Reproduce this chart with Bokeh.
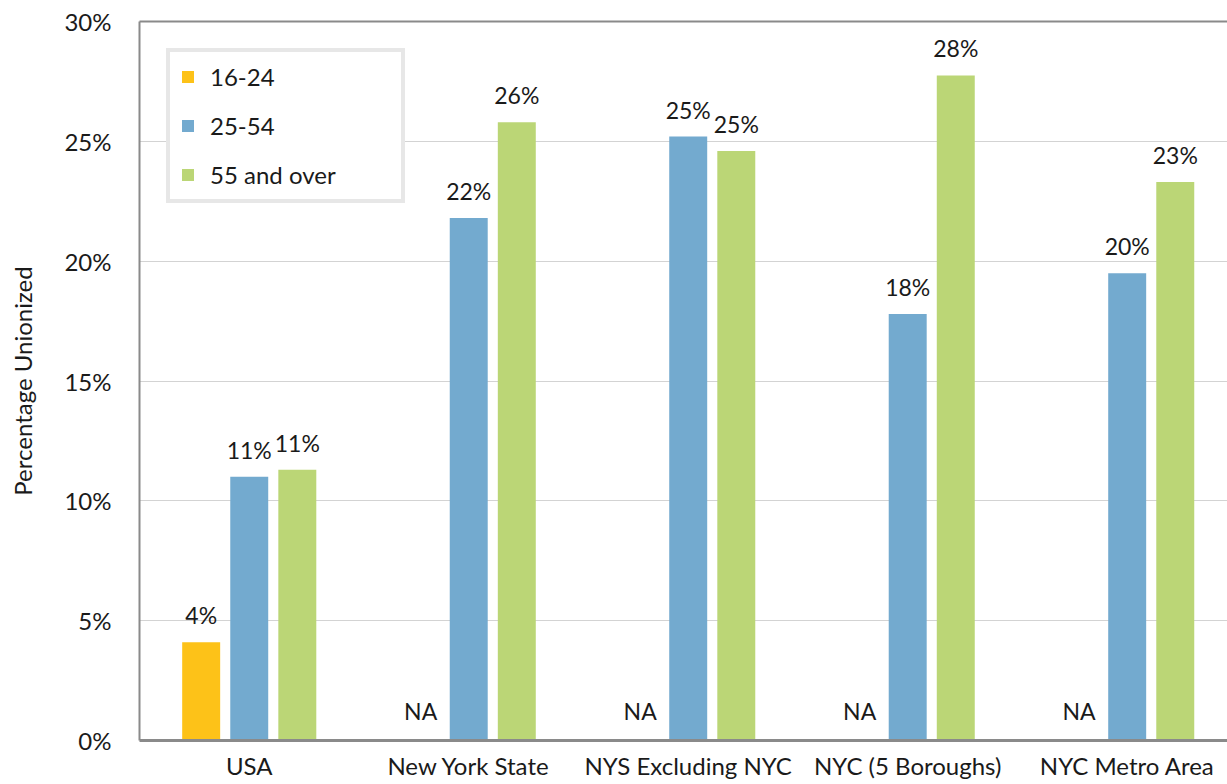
import numpy as np
from bokeh.plotting import figure
from bokeh.models import (ColumnDataSource, Range1d, FixedTicker, LinearAxis,
                          Legend, LegendItem, NumeralTickFormatter)
from bokeh.core.properties import value
from bokeh.embed import file_html
from bokeh.resources import INLINE

# ---- data ----
categories = ["USA", "New York State", "NYS Excluding NYC", "NYC (5 Boroughs)", "NYC Metro Area"]
series_names = ["16-24", "25-54", "55 and over"]
age_16_24 = [4.1, np.nan, np.nan, np.nan, np.nan]
age_25_54 = [11.0, 21.8, 25.2, 17.8, 19.5]
age_55_over = [11.3, 25.8, 24.6, 27.75, 23.3]
y_ticks = [0, 5, 10, 15, 20, 25, 30]

colors = ["#FDC218", "#73AACF", "#BBD676"]
FONT = "Lato"
TXT = "#1a1a1a"

p = figure(width=1227, height=784, output_backend="svg", toolbar_location=None,
           x_range=Range1d(-0.5, 4.457), y_range=Range1d(0, 30),
           min_border_left=139, min_border_right=0, min_border_top=21,
           min_border_bottom=44)
p.outline_line_color = None
p.background_fill_color = "white"
p.border_fill_color = "white"

idx = np.arange(len(categories))
offsets = [-0.219, 0.0, 0.219]
bar_w = 0.173
renderers = []
for vals, off, col in zip([age_16_24, age_25_54, age_55_over], offsets, colors):
    v = np.array(vals, dtype=float)
    mask = np.isfinite(v)
    src = ColumnDataSource(dict(x=(idx + off)[mask], top=v[mask],
                                lab=[f"{t:.0f}%" for t in v[mask]]))
    r = p.vbar(x="x", top="top", width=bar_w, bottom=0, source=src,
               fill_color=col, line_color=None)
    renderers.append(r)
    p.text(x="x", y="top", text="lab", source=src, text_align="center",
           text_baseline="alphabetic", y_offset=-27, text_font=value(FONT),
           text_font_size="23px", text_color=TXT)
    if (~mask).any():
        na_src = ColumnDataSource(dict(x=(idx + off)[~mask],
                                       y=np.zeros((~mask).sum()),
                                       lab=["NA"] * int((~mask).sum())))
        p.text(x="x", y="y", text="lab", source=na_src, text_align="center",
               text_baseline="alphabetic", y_offset=-30, text_font=value(FONT),
               text_font_size="23px", text_color=TXT)

# grid
p.xgrid.visible = False
p.ygrid.ticker = FixedTicker(ticks=y_ticks)
p.ygrid.grid_line_color = "#d3d3d3"
p.ygrid.grid_line_width = 1

# y axis
ya = p.yaxis[0]
ya.ticker = FixedTicker(ticks=y_ticks)
ya.formatter = NumeralTickFormatter(format="0")
ya.major_label_overrides = {t: f"{t}%" for t in y_ticks}
ya.major_tick_in = 0
ya.major_tick_out = 0
ya.minor_tick_line_color = None
ya.axis_line_color = "#8a8a8a"
ya.axis_line_width = 2
ya.major_label_standoff = 28
ya.major_label_text_font = FONT
ya.major_label_text_font_size = "24px"
ya.major_label_text_color = TXT
ya.axis_label = "Percentage Unionized"
ya.axis_label_text_font = FONT
ya.axis_label_text_font_style = "normal"
ya.axis_label_text_font_size = "24px"
ya.axis_label_text_color = TXT
ya.axis_label_standoff = 24

# x axis
xa = p.xaxis[0]
xa.ticker = FixedTicker(ticks=list(idx))
xa.major_label_overrides = {int(i): c for i, c in zip(idx, categories)}
xa.major_tick_in = 0
xa.major_tick_out = 0
xa.minor_tick_line_color = None
xa.axis_line_color = "#8a8a8a"
xa.axis_line_width = 3
xa.major_label_standoff = 10
xa.major_label_text_font = FONT
xa.major_label_text_font_size = "24px"
xa.major_label_text_color = TXT

# top border line as an axis without ticks
top_ax = LinearAxis(ticker=FixedTicker(ticks=[]), major_tick_in=0, major_tick_out=0,
                    minor_tick_line_color=None, major_label_text_font_size="0px",
                    major_label_standoff=0, axis_line_color="#8a8a8a", axis_line_width=2)
p.add_layout(top_ax, "above")

# legend
items = [LegendItem(label=n, renderers=[r]) for n, r in zip(series_names, renderers)]
leg = Legend(items=items, location="top_left", margin=27,
             glyph_width=15, glyph_height=15, label_height=28, spacing=20,
             padding=10, label_standoff=15, label_width=181,
             label_text_font=FONT, label_text_font_size="24px", label_text_color=TXT,
             border_line_color="#d0d0d0", border_line_width=4,
             background_fill_color="white", background_fill_alpha=1.0)
p.add_layout(leg, "center")

open("out.html", "w").write(file_html(p, INLINE))
